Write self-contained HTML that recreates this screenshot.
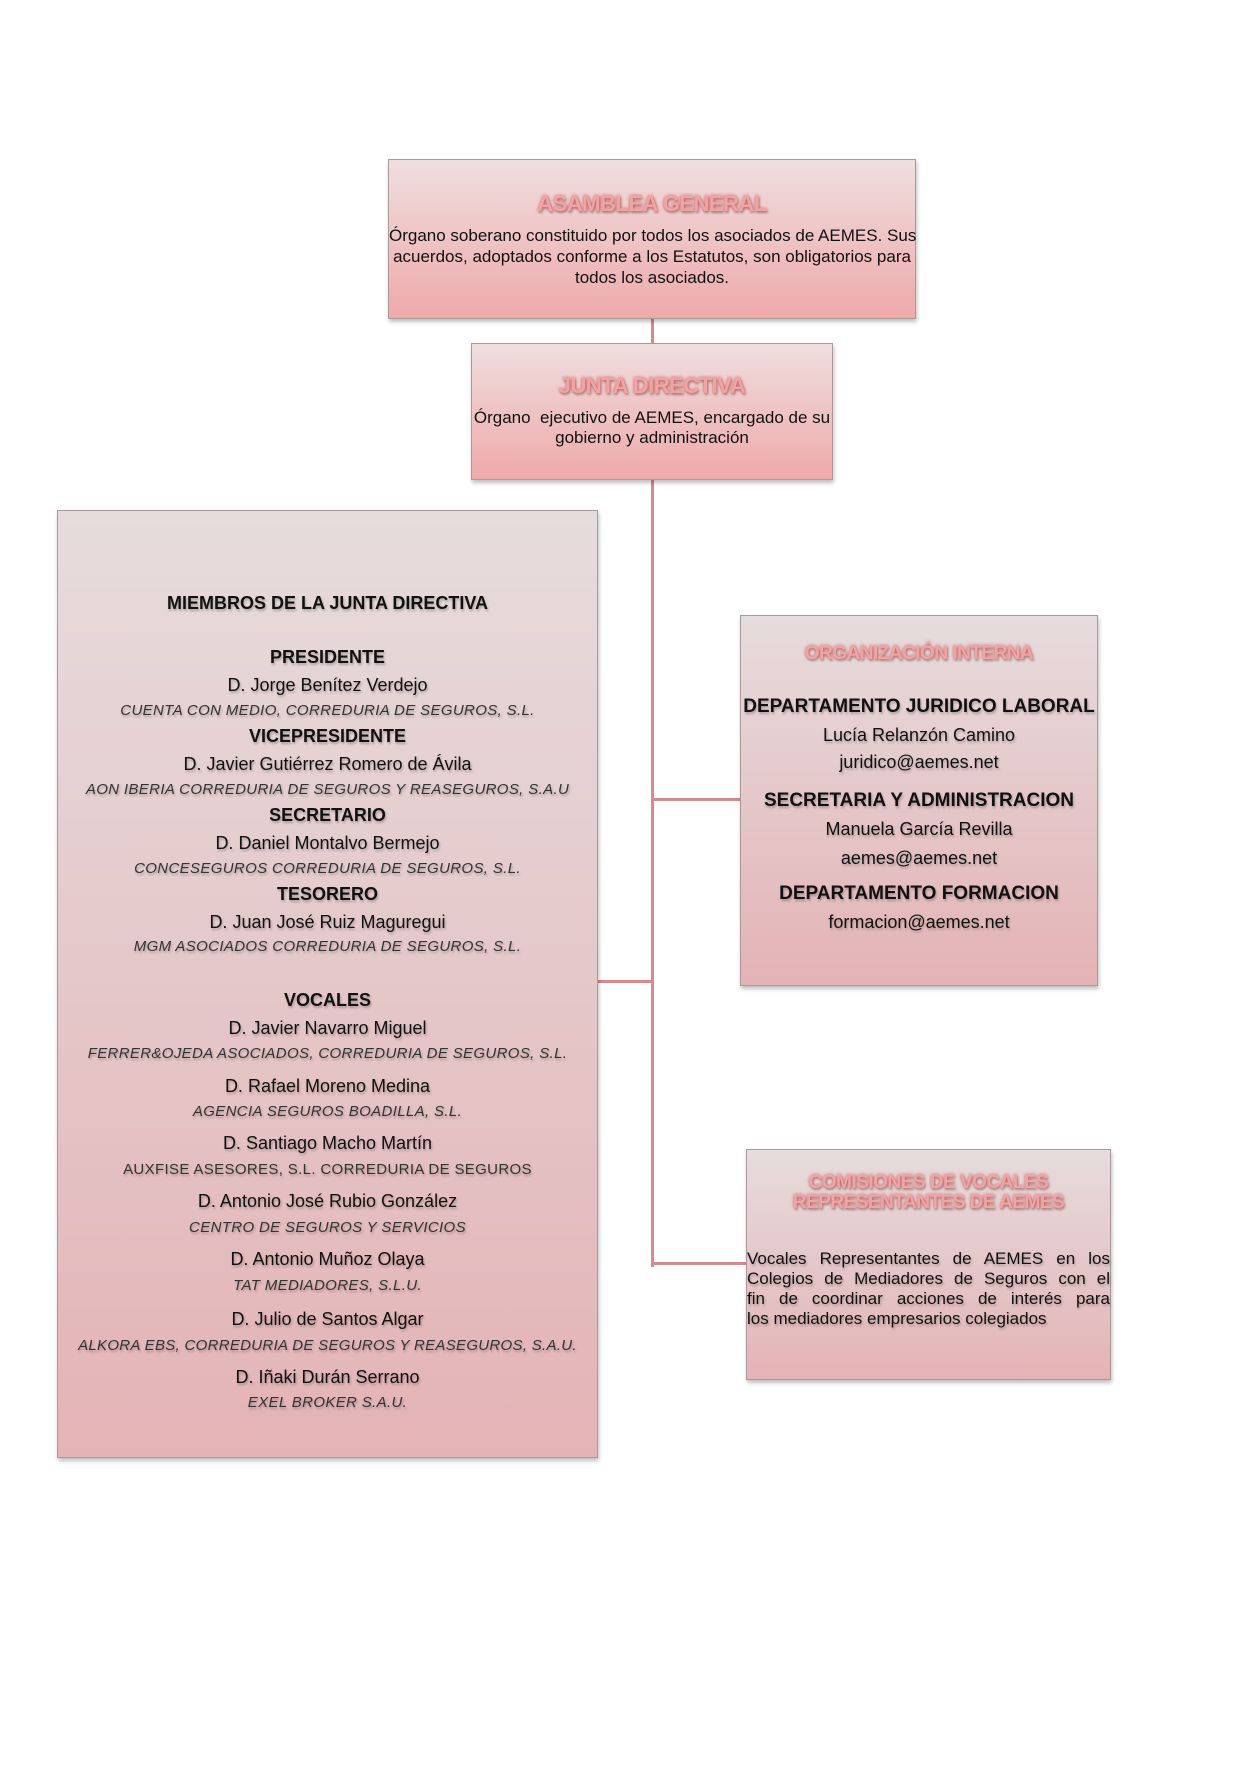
<!DOCTYPE html>
<html><head><meta charset="utf-8"><style>
body{margin:0;width:1241px;height:1778px;background:#fff;position:relative;overflow:hidden;font-family:"Liberation Sans",sans-serif;color:#111}
.box{position:absolute;border:1px solid #a99;box-shadow:1px 3px 4px rgba(0,0,0,.25);box-sizing:border-box}
.pk{background:linear-gradient(#efdede,#efa9ab)}
.lt{background:linear-gradient(#e6dcdc,#e4b3b6)}
.l{position:absolute;left:0;width:100%;text-align:center;height:24px;line-height:24px;white-space:nowrap;text-shadow:1px 2px 2px rgba(0,0,0,.25)}
.t{font-weight:bold;font-size:22px;color:#f0a4a4;text-shadow:0 0 3px #c55,1px 2px 2px rgba(0,0,0,.3);letter-spacing:-0.5px}
.b{font-weight:bold;font-size:18px}
.n{font-size:18px}
.c{font-size:15px;font-style:italic;color:#333;letter-spacing:0.35px}
.cal{font-size:17px;text-shadow:none}
.ln{position:absolute;background:#d9898d}
.j{text-align:justify;text-align-last:justify;white-space:nowrap}
</style></head><body>
<div class="ln" style="left:651px;top:319px;width:3px;height:948px"></div>
<div class="ln" style="left:598px;top:980px;width:53px;height:3px"></div>
<div class="ln" style="left:653px;top:798px;width:88px;height:3px"></div>
<div class="ln" style="left:653px;top:1262px;width:94px;height:3px"></div>

<div class="box pk" style="left:388px;top:159px;width:528px;height:160px">
<div class="l t" style="top:32px">ASAMBLEA GENERAL</div>
<div class="l cal" style="top:64px">Órgano soberano constituido por todos los asociados de AEMES. Sus</div>
<div class="l cal" style="top:85px">acuerdos, adoptados conforme a los Estatutos, son obligatorios para</div>
<div class="l cal" style="top:106px">todos los asociados.</div>
</div>

<div class="box pk" style="left:471px;top:343px;width:362px;height:137px">
<div class="l t" style="top:30px">JUNTA DIRECTIVA</div>
<div class="l cal" style="top:62px">Órgano&nbsp; ejecutivo de AEMES, encargado de su</div>
<div class="l cal" style="top:82px">gobierno y administración</div>
</div>

<div class="box lt" style="left:57px;top:510px;width:541px;height:948px">
<div class="l b" style="top:80px;font-size:18px">MIEMBROS DE LA JUNTA DIRECTIVA</div>
<div class="l b" style="top:134px">PRESIDENTE</div>
<div class="l n" style="top:162px">D. Jorge Benítez Verdejo</div>
<div class="l c" style="top:188px">CUENTA CON MEDIO, CORREDURIA DE SEGUROS, S.L.</div>
<div class="l b" style="top:213px">VICEPRESIDENTE</div>
<div class="l n" style="top:241px">D. Javier Gutiérrez Romero de Ávila</div>
<div class="l c" style="top:267px">AON IBERIA CORREDURIA DE SEGUROS Y REASEGUROS, S.A.U</div>
<div class="l b" style="top:292px">SECRETARIO</div>
<div class="l n" style="top:320px">D. Daniel Montalvo Bermejo</div>
<div class="l c" style="top:346px">CONCESEGUROS CORREDURIA DE SEGUROS, S.L.</div>
<div class="l b" style="top:371px">TESORERO</div>
<div class="l n" style="top:399px">D. Juan José Ruiz Maguregui</div>
<div class="l c" style="top:424px">MGM ASOCIADOS CORREDURIA DE SEGUROS, S.L.</div>
<div class="l b" style="top:477px">VOCALES</div>
<div class="l n" style="top:505px">D. Javier Navarro Miguel</div>
<div class="l c" style="top:531px">FERRER&amp;OJEDA ASOCIADOS, CORREDURIA DE SEGUROS, S.L.</div>
<div class="l n" style="top:563px">D. Rafael Moreno Medina</div>
<div class="l c" style="top:589px">AGENCIA SEGUROS BOADILLA, S.L.</div>
<div class="l n" style="top:620px">D. Santiago Macho Martín</div>
<div class="l c" style="top:647px;font-style:normal">AUXFISE ASESORES, S.L. CORREDURIA DE SEGUROS</div>
<div class="l n" style="top:678px">D. Antonio José Rubio González</div>
<div class="l c" style="top:705px">CENTRO DE SEGUROS Y SERVICIOS</div>
<div class="l n" style="top:736px">D. Antonio Muñoz Olaya</div>
<div class="l c" style="top:763px">TAT MEDIADORES, S.L.U.</div>
<div class="l n" style="top:796px">D. Julio de Santos Algar</div>
<div class="l c" style="top:823px;letter-spacing:0.3px">ALKORA EBS, CORREDURIA DE SEGUROS Y REASEGUROS, S.A.U.</div>
<div class="l n" style="top:854px">D. Iñaki Durán Serrano</div>
<div class="l c" style="top:880px">EXEL BROKER S.A.U.</div>
</div>

<div class="box lt" style="left:740px;top:615px;width:358px;height:371px">
<div class="l t" style="top:26px;font-size:19px">ORGANIZACIÓN INTERNA</div>
<div class="l b" style="top:79px;font-size:19px">DEPARTAMENTO JURIDICO LABORAL</div>
<div class="l n" style="top:107px">Lucía Relanzón Camino</div>
<div class="l n" style="top:134px">juridico@aemes.net</div>
<div class="l b" style="top:173px;font-size:19px">SECRETARIA Y ADMINISTRACION</div>
<div class="l n" style="top:201px">Manuela García Revilla</div>
<div class="l n" style="top:230px">aemes@aemes.net</div>
<div class="l b" style="top:266px;font-size:19px">DEPARTAMENTO FORMACION</div>
<div class="l n" style="top:294px">formacion@aemes.net</div>
</div>

<div class="box lt" style="left:746px;top:1149px;width:365px;height:231px">
<div class="l t" style="top:23px;font-size:19px;line-height:20px;height:20px">COMISIONES DE VOCALES</div>
<div class="l t" style="top:43px;font-size:19px;line-height:20px;height:20px">REPRESENTANTES DE AEMES</div>
<div style="position:absolute;left:0;top:99px;width:363px;font-size:17px;line-height:20px;text-shadow:1px 2px 2px rgba(0,0,0,.25)">
<div class="j">Vocales Representantes de AEMES en los</div>
<div class="j">Colegios de Mediadores de Seguros con el</div>
<div class="j">fin de coordinar acciones de interés para</div>
<div style="white-space:nowrap">los mediadores empresarios colegiados</div>
</div>
</div>
</body></html>
